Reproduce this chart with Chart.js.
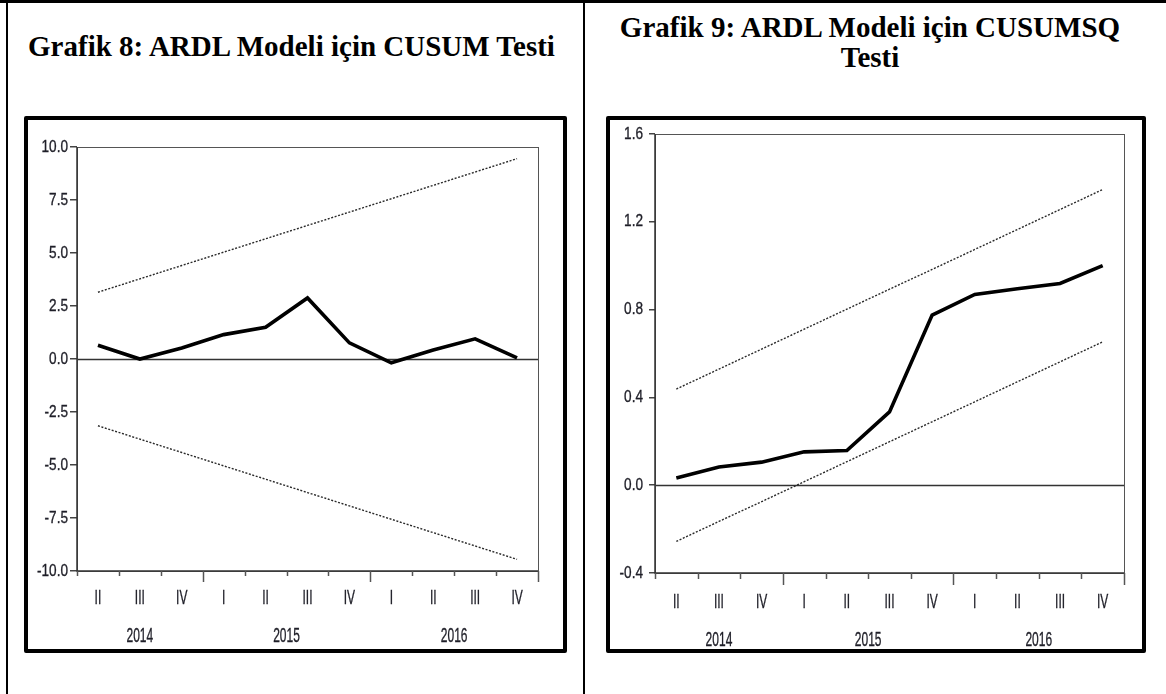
<!DOCTYPE html>
<html>
<head>
<meta charset="utf-8">
<script src="https://cdn.jsdelivr.net/npm/chart.js@4.4.1/dist/chart.umd.min.js"></script>
<style>
  html, body { margin: 0; padding: 0; background: #fff; }
  #page { position: relative; width: 1166px; height: 694px; overflow: hidden; background: #fff; }
  .rule { position: absolute; background: #000; }
  .title { position: absolute; font-family: "Liberation Serif", "Times New Roman", serif; font-weight: bold;
           font-size: 29px; line-height: 30px; color: #000; text-align: center; white-space: nowrap; }
  .box { position: absolute; border: 4px solid #000; box-sizing: border-box; border-radius: 2px; }
  canvas { position: absolute; }
</style>
</head>
<body>
<div id="page">
  <div class="rule" style="left:0;top:0;width:1166px;height:3px;"></div>
  <div class="rule" style="left:6px;top:0;width:2px;height:694px;"></div>
  <div class="rule" style="left:583px;top:0;width:2px;height:694px;"></div>

  <div class="title" style="left:4px;top:31px;width:575px;">Grafik 8: ARDL Modeli için CUSUM Testi</div>
  <div class="title" style="left:588px;top:12px;width:564px;">Grafik 9: ARDL Modeli için CUSUMSQ<br>Testi</div>

  <div class="box" style="left:24px;top:116px;width:543px;height:537px;"></div>
  <div class="box" style="left:606px;top:116px;width:540px;height:537px;"></div>

  <canvas id="c1" width="535" height="529" style="left:28px;top:120px;"></canvas>
  <canvas id="c2" width="532" height="529" style="left:610px;top:120px;"></canvas>
</div>
<script>
// ---- data ----
const quarters = ['II', 'III', 'IV', 'I', 'II', 'III', 'IV', 'I', 'II', 'III', 'IV'];
const yearLabels = ['2014', '2015', '2016'];
const yearStart = [0, 3, 7];
const yearEnd = [2, 6, 10];

const cusum      = [0.65, 0.00, 0.52, 1.15, 1.50, 2.88, 0.76, -0.18, 0.42, 0.95, 0.05];
const cusumUpper = [3.15, 3.78, 4.41, 5.04, 5.67, 6.30, 6.93, 7.56, 8.19, 8.82, 9.45];
const cusumLower = [-3.15, -3.78, -4.41, -5.04, -5.67, -6.30, -6.93, -7.56, -8.19, -8.82, -9.45];
const cusumTicks = [-10, -7.5, -5, -2.5, 0, 2.5, 5, 7.5, 10];

const cusumsq      = [0.033, 0.083, 0.105, 0.152, 0.158, 0.334, 0.775, 0.869, 0.895, 0.919, 1.000];
const cusumsqUpper = [0.438, 0.529, 0.620, 0.711, 0.802, 0.893, 0.983, 1.074, 1.165, 1.256, 1.347];
const cusumsqLower = [-0.256, -0.165, -0.075, 0.016, 0.107, 0.198, 0.289, 0.380, 0.471, 0.562, 0.653];
const cusumsqTicks = [-0.4, 0.0, 0.4, 0.8, 1.2, 1.6];

// ---- styling ----
const AXIS_FONT = '"Liberation Sans", Arial, sans-serif';
const TEXT_COLOR = '#1f1f28';

// narrow text: Arial compressed horizontally, like Arial Narrow
function narrowText(ctx, text, x, y, size, squeeze, align) {
  ctx.save();
  ctx.translate(x, y);
  ctx.scale(squeeze, 1);
  ctx.font = size + 'px ' + AXIS_FONT;
  ctx.textAlign = align;
  ctx.textBaseline = 'middle';
  ctx.fillStyle = TEXT_COLOR;
  ctx.strokeStyle = TEXT_COLOR;
  ctx.lineWidth = 0.35;
  ctx.fillText(text, 0, 0);
  ctx.strokeText(text, 0, 0);
  ctx.restore();
}

function decorPlugin(o) {
  return {
    id: 'decor' + o.id,
    beforeDatasetsDraw(chart) {
      const ctx = chart.ctx, a = chart.chartArea, y = chart.scales.y;
      ctx.save();
      const y0 = Math.round(y.getPixelForValue(0)) + 0.5;
      ctx.strokeStyle = '#333';
      ctx.lineWidth = 1.5;
      ctx.beginPath(); ctx.moveTo(a.left, y0); ctx.lineTo(a.right, y0); ctx.stroke();
      ctx.restore();
    },
    afterDraw(chart) {
      const ctx = chart.ctx, a = chart.chartArea, x = chart.scales.x, y = chart.scales.y;
      ctx.save();
      // frame
      ctx.strokeStyle = '#555';
      ctx.lineWidth = 1;
      ctx.strokeRect(Math.round(a.left) + 0.5, Math.round(a.top) + 0.5,
                     Math.round(a.right - a.left), Math.round(a.bottom - a.top));
      ctx.strokeStyle = '#333';
      ctx.lineWidth = 1.5;
      ctx.beginPath();
      ctx.moveTo(a.left, a.top); ctx.lineTo(a.left, a.bottom); ctx.lineTo(a.right, a.bottom);
      ctx.stroke();
      // x tick marks at quarter boundaries, long at year boundaries
      ctx.strokeStyle = '#555';
      ctx.lineWidth = 1.5;
      for (let k = 0; k <= quarters.length; k++) {
        const px = Math.round(x.getPixelForValue(k - 0.5)) + 0.5;
        const long = (yearStart.includes(k) && k > 0) || k === quarters.length;
        ctx.beginPath();
        ctx.moveTo(px, a.bottom);
        ctx.lineTo(px, a.bottom + (long ? o.longTick : o.shortTick));
        ctx.stroke();
      }
      ctx.restore();
      // y tick labels
      y.ticks.forEach(t => {
        narrowText(ctx, Number(t.value).toFixed(1), a.left - o.yLabelGap,
                   y.getPixelForValue(t.value), 17, 0.8, 'right');
      });
      // quarter labels
      quarters.forEach((q, i) => {
        narrowText(ctx, q, x.getPixelForValue(i), a.bottom + o.qOffset, 20, 0.6, 'center');
      });
      // year labels
      for (let i = 0; i < yearLabels.length; i++) {
        const cx = (x.getPixelForValue(yearStart[i]) + x.getPixelForValue(yearEnd[i])) / 2;
        narrowText(ctx, yearLabels[i], cx, a.bottom + o.yearOffset, 20, 0.6, 'center');
      }
    }
  };
}

function makeChart(id, o) {
  const lineDs = (data, main) => ({
    data,
    borderColor: main ? '#000' : '#2a2a2a',
    borderWidth: main ? 3.6 : 1.4,
    borderDash: main ? [] : [2, 1.6],
    pointRadius: 0,
    tension: 0,
    fill: false,
    borderJoinStyle: 'miter',
    borderCapStyle: 'butt',
    order: main ? 0 : 1
  });
  return new Chart(document.getElementById(id), {
    type: 'line',
    data: {
      labels: quarters,
      datasets: [lineDs(o.upper, false), lineDs(o.lower, false), lineDs(o.main, true)]
    },
    options: {
      responsive: false,
      animation: false,
      events: [],
      layout: { padding: { top: o.padTop, right: o.padRight, left: 0, bottom: 0 } },
      plugins: { legend: { display: false }, tooltip: { enabled: false } },
      scales: {
        x: {
          type: 'category',
          offset: true,
          grid: { display: false },
          border: { display: false },
          ticks: { display: false, autoSkip: false },
          afterFit: s => { s.height = o.xHeight; }
        },
        y: {
          min: o.ticks[0],
          max: o.ticks[o.ticks.length - 1],
          afterBuildTicks: s => { s.ticks = o.ticks.map(v => ({ value: v })); },
          grid: { drawOnChartArea: false, drawTicks: true, tickLength: o.yTick, color: '#444', tickColor: '#444', lineWidth: 1.5 },
          border: { display: false },
          ticks: { display: false },
          afterFit: s => { s.width = o.yWidth; }
        }
      }
    },
    plugins: [decorPlugin(o)]
  });
}

makeChart('c1', {
  id: 1, main: cusum, upper: cusumUpper, lower: cusumLower, ticks: cusumTicks,
  padTop: 27, padRight: 25, yWidth: 49, xHeight: 78, yTick: 7, yLabelGap: 9,
  qOffset: 27, shortTick: 5, longTick: 11, yearOffset: 65
});
makeChart('c2', {
  id: 2, main: cusumsq, upper: cusumsqUpper, lower: cusumsqLower, ticks: cusumsqTicks,
  padTop: 14, padRight: 18, yWidth: 45, xHeight: 76, yTick: 6, yLabelGap: 12,
  qOffset: 29, shortTick: 6, longTick: 12, yearOffset: 67
});
</script>
</body>
</html>
